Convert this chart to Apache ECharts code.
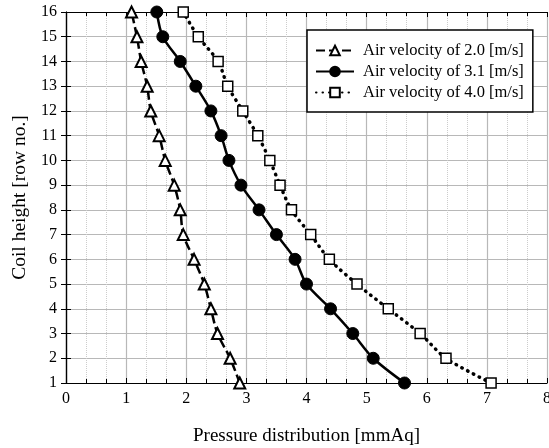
<!DOCTYPE html>
<html>
<head>
<meta charset="utf-8">
<script src="https://cdn.jsdelivr.net/npm/echarts@6/dist/echarts.min.js"></script>
<style>
  html, body { margin: 0; padding: 0; background: #fff; }
  #chart { width: 549px; height: 448px; }
</style>
</head>
<body>
<div id="chart"></div>
<script>
// coil rows, bottom to top
const rows = [1, 2, 3, 4, 5, 6, 7, 8, 9, 10, 11, 12, 13, 14, 15, 16]
// pressure distribution [mmAq] for each row
const v20 = [2.89, 2.73, 2.52, 2.41, 2.30, 2.13, 1.95, 1.90, 1.80, 1.65, 1.55, 1.41, 1.35, 1.25, 1.18, 1.09]
const v31 = [5.63, 5.11, 4.77, 4.40, 4.00, 3.81, 3.50, 3.21, 2.91, 2.71, 2.58, 2.41, 2.16, 1.90, 1.61, 1.51]
const v40 = [7.07, 6.32, 5.89, 5.36, 4.84, 4.38, 4.07, 3.75, 3.56, 3.39, 3.19, 2.94, 2.69, 2.53, 2.20, 1.95]
const names = ['Air velocity of 2.0 [m/s]', 'Air velocity of 3.1 [m/s]', 'Air velocity of 4.0 [m/s]']

const font = 'Liberation Serif'
const pairs = (vals) => vals.map((v, i) => [v, rows[i]])

const chart = echarts.init(document.getElementById('chart'))

const baseX = {
  type: 'value',
  min: 0,
  max: 8,
  interval: 1,
  axisLine: { show: true, lineStyle: { color: '#000', width: 1.2 } },
  axisTick: { show: true, inside: true, length: 5, lineStyle: { color: '#000' } },
  minorTick: { show: true, splitNumber: 3, length: 4, lineStyle: { color: '#000' } }
}
const baseY = {
  type: 'value',
  min: 1,
  max: 16,
  interval: 1,
  axisLine: { show: true, lineStyle: { color: '#000', width: 1.2 } },
  axisTick: { show: true, inside: true, length: 5, lineStyle: { color: '#000' } }
}

chart.setOption({
  backgroundColor: '#fff',
  animation: false,
  grid: { left: 66, right: 2, top: 12, bottom: 65, outerBoundsMode: 'none', containLabel: false },
  legend: {
    orient: 'vertical',
    left: 307,
    top: 30,
    padding: [12, 9, 11, 8],
    itemGap: 4,
    itemWidth: 38,
    itemHeight: 12,
    borderColor: '#000',
    borderWidth: 1.5,
    backgroundColor: '#fff',
    textStyle: { fontFamily: font, fontSize: 16.5, lineHeight: 17, color: '#000', padding: [0, 0, 0, 4] },
    data: names
  },
  xAxis: [
    {
      ...baseX,
      position: 'bottom',
      name: 'Pressure distribution [mmAq]',
      nameLocation: 'middle',
      nameGap: 44,
      nameTextStyle: { fontFamily: font, fontSize: 19, color: '#000' },
      axisLabel: { fontFamily: font, fontSize: 16, color: '#000', margin: 8 },
      splitLine: { show: true, lineStyle: { color: '#b8b8b8', width: 1.2 } },
      minorSplitLine: { show: true, lineStyle: { color: '#cccccc', type: 'dotted', width: 1 } }
    },
    {
      ...baseX,
      position: 'top',
      axisLabel: { show: false },
      splitLine: { show: false }
    }
  ],
  yAxis: [
    {
      ...baseY,
      position: 'left',
      name: 'Coil height [row no.]',
      nameLocation: 'middle',
      nameGap: 36,
      nameTextStyle: { fontFamily: font, fontSize: 19.5, color: '#000' },
      axisLabel: { fontFamily: font, fontSize: 16, color: '#000', margin: 9 },
      splitLine: { show: true, lineStyle: { color: '#b8b8b8', width: 1.2 } }
    },
    {
      ...baseY,
      position: 'right',
      axisLabel: { show: false },
      splitLine: { show: false }
    }
  ],
  series: [
    {
      name: names[0],
      type: 'line',
      data: pairs(v20),
      smooth: 0.3,
      clip: false,
      symbol: 'triangle',
      symbolSize: 11,
      lineStyle: { color: '#000', width: 2.5, type: [9, 4] },
      itemStyle: { color: '#fff', borderColor: '#000', borderWidth: 2 }
    },
    {
      name: names[1],
      type: 'line',
      data: pairs(v31),
      smooth: 0.3,
      clip: false,
      symbol: 'circle',
      symbolSize: 12,
      lineStyle: { color: '#000', width: 2.5 },
      itemStyle: { color: '#000', borderColor: '#000', borderWidth: 1 }
    },
    {
      name: names[2],
      type: 'line',
      data: pairs(v40),
      smooth: 0.3,
      clip: false,
      symbol: 'rect',
      symbolSize: 10,
      lineStyle: { color: '#000', width: 3.5, type: [0.5, 6], cap: 'round' },
      itemStyle: { color: '#fff', borderColor: '#000', borderWidth: 1.5 }
    }
  ]
})
</script>
</body>
</html>
